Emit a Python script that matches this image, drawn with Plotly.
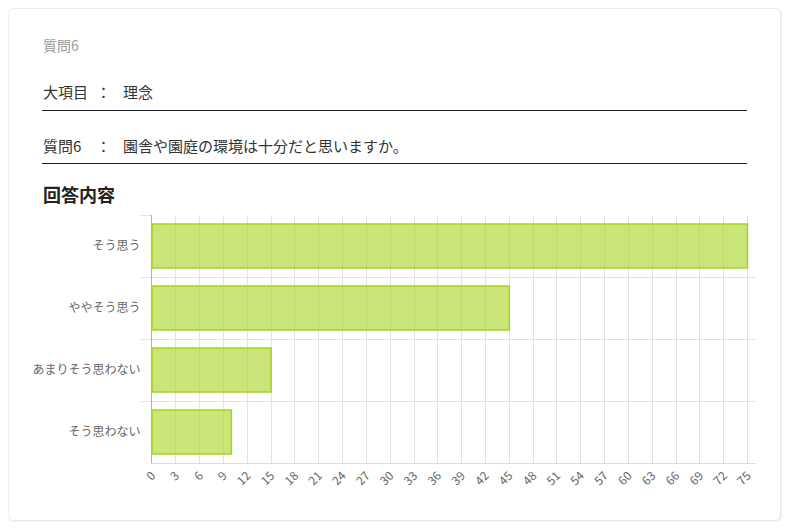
import plotly.graph_objects as go

# answer counts for question 6
answers = ["そう思う", "ややそう思う", "あまりそう思わない", "そう思わない"]
counts = [75, 45, 15, 10]
x_ticks = list(range(0, 76, 3))

page_title = "質問6"
item_label = "大項目"
item_value = "理念"
question_label = "質問6"
question_text = "園舎や園庭の環境は十分だと思いますか。"
chart_heading = "回答内容"

# the page puts the figure 8px in from the window corner
OFF = 8
W, H = 790 - 2 * OFF, 530 - 2 * OFF
L, R, T, B = 152 - OFF, 34 - OFF, 215 - OFF, 67 - OFF
font = "Noto Sans CJK JP, Noto Sans, sans-serif"


def px(x):
    return (x - OFF - L) / (W - L - R)


def py(y):
    return 1 - (y - OFF - T) / (H - T - B)


def rounded(x0, y0, x1, y1, r):
    # rounded rectangle path in paper coords, given window pixels
    p = [
        "M %f,%f" % (px(x0 + r), py(y0)),
        "L %f,%f" % (px(x1 - r), py(y0)),
        "Q %f,%f %f,%f" % (px(x1), py(y0), px(x1), py(y0 + r)),
        "L %f,%f" % (px(x1), py(y1 - r)),
        "Q %f,%f %f,%f" % (px(x1), py(y1), px(x1 - r), py(y1)),
        "L %f,%f" % (px(x0 + r), py(y1)),
        "Q %f,%f %f,%f" % (px(x0), py(y1), px(x0), py(y1 - r)),
        "L %f,%f" % (px(x0), py(y0 + r)),
        "Q %f,%f %f,%f" % (px(x0), py(y0), px(x0 + r), py(y0)),
        "Z",
    ]
    return " ".join(p)


fig = go.Figure(go.Bar(
    x=counts,
    y=answers,
    orientation="h",
    marker=dict(color="rgba(166,212,30,0.6)",
                line=dict(color="rgb(166,212,30)", width=1.5)),
    hoverinfo="x+y",
))

shapes = []
# card shadow + card
for i, c in enumerate(["#f6f6f6", "#eeeeee", "#e6e6e6"]):
    shapes.append(dict(type="path", xref="paper", yref="paper",
                       path=rounded(8 + i * 0.5, 8 + i * 0.3, 782 - i * 0.6, 522 - i * 0.6, 6),
                       line=dict(width=0), fillcolor=c, layer="below"))
shapes.append(dict(type="path", xref="paper", yref="paper",
                   path=rounded(9, 9, 780, 520, 5),
                   line=dict(width=0), fillcolor="white", layer="below"))
# underlines
for yy in (110.5, 163.5):
    shapes.append(dict(type="line", xref="paper", yref="paper",
                       x0=px(42), x1=px(747), y0=py(yy), y1=py(yy),
                       line=dict(color="#1c1f2a", width=1)))


def note(x, y, text, size=15, color="#333", anchor="left", bold=False):
    return dict(x=px(x), y=py(y), xref="paper", yref="paper",
                text="<b>%s</b>" % text if bold else text,
                showarrow=False, xanchor=anchor, yanchor="middle",
                font=dict(family=font, size=size, color=color))


annotations = [
    note(41, 45, page_title, size=14, color="#999"),
    note(41, 92, item_label),
    note(103, 92, "：", anchor="center"),
    note(121, 92, item_value),
    note(41, 146, question_label),
    note(103, 146, "：", anchor="center"),
    note(121, 146, question_text),
    note(41, 194, chart_heading, size=18, color="#222", bold=True),
]

fig.update_layout(
    width=W, height=H,
    margin=dict(l=L, r=R, t=T, b=B),
    paper_bgcolor="white",
    plot_bgcolor="rgba(0,0,0,0)",
    bargap=0.29,
    showlegend=False,
    shapes=shapes,
    annotations=annotations,
    font=dict(family=font, size=12, color="#666"),
    xaxis=dict(range=[0, 76.07], tickvals=x_ticks, tickangle=-45,
               showgrid=True, gridcolor="#e2e2e2", gridwidth=1,
               zeroline=False, showline=True, linecolor="#dddddd",
               ticks="", tickfont=dict(size=12, color="#666")),
    yaxis=dict(type="category", autorange="reversed", tickson="boundaries",
               showgrid=True, gridcolor="#e2e2e2", ticks="outside",
               ticklen=10, tickcolor="#e2e2e2", ticklabelstandoff=8,
               showline=True, linecolor="#b0b0b0",
               tickfont=dict(size=12, color="#666")),
)

fig.write_html("out.html")
